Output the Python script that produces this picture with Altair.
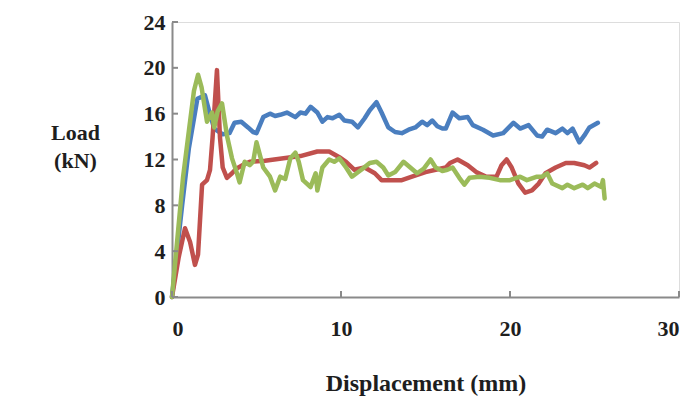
import altair as alt
import pandas as pd

blue_x = [0, 0.6, 1.0, 1.5, 1.95, 2.2, 2.5, 3.0, 3.4, 3.7, 4.1, 4.5, 4.8, 5.0, 5.4, 5.8, 6.1, 6.4, 6.8, 7.3, 7.6, 7.9, 8.2, 8.6, 8.9, 9.2, 9.5, 9.9, 10.2, 10.65, 11.0, 11.4, 11.7, 12.1, 12.4, 12.8, 13.2, 13.6, 14.0, 14.4, 14.8, 15.1, 15.4, 15.7, 16.0, 16.2, 16.6, 17.0, 17.5, 17.8, 18.4, 19.0, 19.6, 20.2, 20.6, 21.1, 21.6, 21.9, 22.2, 22.7, 23.1, 23.4, 23.7, 24.1, 24.4, 24.7, 25.2]
blue_y = [0, 8.0, 13.0, 17.3, 17.6, 16.2, 14.7, 14.2, 14.3, 15.2, 15.3, 14.8, 14.4, 14.3, 15.7, 16.0, 15.8, 15.9, 16.1, 15.7, 16.1, 16.0, 16.6, 16.1, 15.3, 15.7, 15.6, 15.9, 15.4, 15.3, 14.8, 15.6, 16.3, 17.0, 16.1, 14.8, 14.4, 14.3, 14.6, 14.8, 15.3, 15.0, 15.4, 14.9, 14.7, 14.7, 16.1, 15.6, 15.7, 15.0, 14.6, 14.1, 14.3, 15.2, 14.7, 15.0, 14.1, 14.0, 14.6, 14.3, 14.7, 14.3, 14.7, 13.5, 14.1, 14.8, 15.2]

red_x = [0, 0.4, 0.77, 1.07, 1.36, 1.54, 1.78, 2.07, 2.25, 2.4, 2.66, 2.84, 3.0, 3.25, 3.55, 3.8, 4.3, 4.6, 5.5, 6.6, 7.6, 8.6, 9.3, 9.9, 10.3, 10.8, 11.4, 12.0, 12.4, 13.0, 13.6, 14.2, 15.0, 15.6, 16.2, 16.45, 16.9, 17.5, 18.0, 18.6, 19.2, 19.5, 19.8, 20.1, 20.5, 20.9, 21.3, 21.7, 22.1, 22.7, 23.3, 23.8, 24.4, 24.7, 25.1]
red_y = [0, 3.5, 6.0, 4.8, 2.8, 3.7, 9.8, 10.2, 11.1, 13.9, 19.8, 13.9, 11.3, 10.4, 10.8, 11.2, 11.6, 11.8, 11.9, 12.1, 12.3, 12.7, 12.7, 12.2, 11.8, 11.1, 11.3, 10.8, 10.2, 10.2, 10.2, 10.5, 10.9, 11.1, 11.3, 11.7, 12.0, 11.5, 10.9, 10.5, 10.5, 11.5, 12.0, 11.3, 9.9, 9.1, 9.3, 9.9, 10.8, 11.3, 11.7, 11.7, 11.5, 11.3, 11.7]

green_x = [0, 0.65, 1.0, 1.3, 1.54, 1.75, 2.07, 2.37, 2.5, 2.7, 2.96, 3.25, 3.55, 3.8, 4.0, 4.3, 4.6, 4.8, 5.0, 5.4, 5.8, 6.1, 6.4, 6.7, 7.0, 7.3, 7.5, 7.75, 8.2, 8.5, 8.6, 8.9, 9.3, 9.6, 9.9, 10.3, 10.65, 11.2, 11.7, 12.1, 12.5, 12.8, 13.2, 13.7, 14.1, 14.5, 14.9, 15.3, 15.6, 16.0, 16.3, 16.6, 17.0, 17.3, 17.6, 18.2, 18.8, 19.4, 20.0, 20.6, 21.0, 21.6, 21.9, 22.2, 22.5, 23.1, 23.4, 23.8, 24.3, 24.6, 25.0, 25.4, 25.5, 25.6]
green_y = [0, 10.4, 14.5, 18.0, 19.4, 18.3, 15.3, 16.1, 14.8, 16.2, 16.9, 14.1, 12.1, 11.0, 10.0, 11.8, 11.5, 11.8, 13.5, 11.3, 10.5, 9.3, 10.5, 10.3, 12.1, 12.6, 11.8, 10.2, 9.6, 10.8, 9.3, 11.3, 12.0, 11.8, 12.1, 11.3, 10.5, 11.1, 11.7, 11.8, 11.3, 10.6, 10.9, 11.8, 11.3, 10.8, 11.2, 12.0, 11.3, 11.0, 11.1, 11.3, 10.4, 9.8, 10.4, 10.5, 10.4, 10.2, 10.2, 10.5, 10.2, 10.5, 10.5, 10.8, 9.9, 9.5, 9.8, 9.5, 9.8, 9.5, 9.9, 9.6, 10.2, 8.6]

x_ticks = [0, 10, 20, 30]
y_ticks = [0, 4, 8, 12, 16, 20, 24]

W, H = 507, 275
FONT = "Liberation Serif"
AXIS_GRAY = "#8a8a8a"
TXT = "#1e1e1e"

xs = alt.Scale(domain=[0, 30], nice=False, zero=False)
ys = alt.Scale(domain=[0, 24], nice=False)

x_axis = alt.Axis(values=x_ticks, title="Displacement (mm)", grid=False, ticks=False,
                  domainColor=AXIS_GRAY, domainWidth=2, labelPadding=21,
                  labelFont=FONT, labelFontSize=22, labelFontWeight="bold", labelColor=TXT,
                  titleFont=FONT, titleFontSize=24, titleFontWeight="bold", titleColor=TXT,
                  titleBaseline="alphabetic", titleY=93)
y_axis = alt.Axis(values=y_ticks, title=["Load", "(kN)"], grid=False, ticks=False,
                  domainColor=AXIS_GRAY, domainWidth=2, labelPadding=7,
                  labelFont=FONT, labelFontSize=22, labelFontWeight="bold", labelColor=TXT,
                  titleFont=FONT, titleFontSize=22, titleFontWeight="bold", titleColor=TXT,
                  titleAngle=0, titleAlign="center", titleBaseline="top",
                  titleX=-97, titleY=100, titleLineHeight=28)


def series(xv, yv, color):
    df = pd.DataFrame({"d": xv, "load": yv, "i": range(len(xv))})
    return alt.Chart(df).mark_line(color=color, strokeWidth=4.5, strokeJoin="round", strokeCap="round").encode(
        x=alt.X("d:Q", scale=xs, axis=x_axis),
        y=alt.Y("load:Q", scale=ys, axis=y_axis),
        order="i:Q",
    )


ytick_df = pd.DataFrame({"load": y_ticks})
xtick_df = pd.DataFrame({"d": x_ticks})

ytick_layer = alt.Chart(ytick_df).mark_rule(color=AXIS_GRAY, strokeWidth=2).encode(
    y=alt.Y("load:Q", scale=ys, axis=y_axis), x=alt.value(0), x2=alt.value(6))
xtick_layer = alt.Chart(xtick_df).mark_rule(color=AXIS_GRAY, strokeWidth=2).encode(
    x=alt.X("d:Q", scale=xs, axis=x_axis), y=alt.value(H), y2=alt.value(H - 6))

chart = alt.layer(
    series(blue_x, blue_y, "#4a7ebf"),
    series(red_x, red_y, "#c0504d"),
    series(green_x, green_y, "#9bbb59"),
    ytick_layer,
    xtick_layer,
).properties(
    width=W, height=H,
    autosize=alt.AutoSizeParams(type="none"),
    padding={"left": 164, "top": 14, "right": 13, "bottom": 104},
).configure_view(stroke=None).configure(background="white")

chart.save("out.html", embed_options={"renderer": "svg", "actions": False})
